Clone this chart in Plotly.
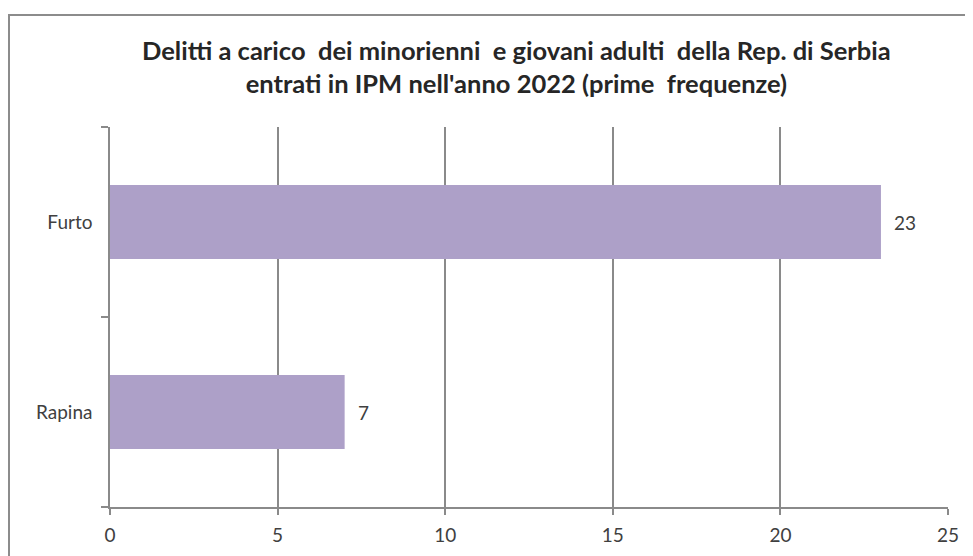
import plotly.graph_objects as go

categories = ["Rapina", "Furto"]
values = [7, 23]
x_ticks = [0, 5, 10, 15, 20, 25]
title_lines = [
    "Delitti a carico  dei minorienni  e giovani adulti  della Rep. di Serbia",
    "entrati in IPM nell'anno 2022 (prime  frequenze)",
]

axis_col = "#8a8a8a"
text_col = "#404040"
font_family = "Lato, 'Open Sans', sans-serif"

# page body has an 8px margin; plot area in screen px: x 110..948, y 127..507
fig = go.Figure()
fig.add_trace(go.Bar(
    y=categories, x=values, orientation="h",
    marker=dict(color="#ada0c8", line=dict(width=0)),
    width=0.39,
    hoverinfo="x+y",
))

annotations = [dict(
    text="<br>".join(title_lines),
    xref="paper", yref="paper",
    x=0.4845, y=1 + (127 - 66) / 380,
    xanchor="center", yanchor="middle",
    showarrow=False,
    font=dict(family=font_family, size=25.5, color="#262626", weight="bold"),
    align="center",
)]
for cat, val in zip(categories, values):
    annotations.append(dict(
        x=val, y=cat, xref="x", yref="y",
        text=str(val), showarrow=False,
        xanchor="left", yanchor="middle", xshift=11,
        font=dict(family=font_family, size=19, color=text_col),
    ))

fig.update_layout(
    width=965, height=548,
    margin=dict(l=102, r=25, t=119, b=49, autoexpand=False),
    paper_bgcolor="white", plot_bgcolor="white",
    showlegend=False,
    bargap=0.61,
    annotations=annotations,
    shapes=[dict(
        type="rect", xref="paper", yref="paper",
        x0=(9 - 110) / 838, x1=(995 - 110) / 838,
        y0=(507 - 590) / 380, y1=1 + (127 - 15) / 380,
        line=dict(color="#8c8c8c", width=2), fillcolor="rgba(0,0,0,0)",
        layer="below",
    )],
)

fig.update_xaxes(
    range=[0, 25], tickvals=x_ticks, ticktext=[str(t) for t in x_ticks],
    showgrid=True, gridcolor=axis_col, gridwidth=1.5,
    showline=True, linecolor=axis_col, linewidth=1.5,
    ticks="outside", ticklen=6, tickcolor=axis_col, tickwidth=1.5,
    ticklabelstandoff=4, automargin=False,
    zeroline=False,
    tickfont=dict(family=font_family, size=19, color=text_col),
)
fig.update_yaxes(
    categoryorder="array", categoryarray=categories,
    showline=True, linecolor=axis_col, linewidth=1.5,
    ticks="outside", ticklen=7, tickcolor=axis_col, tickwidth=1.5,
    tickson="boundaries", automargin=False,
    ticklabelstandoff=12,
    showgrid=False, zeroline=False,
    tickfont=dict(family=font_family, size=19, color=text_col),
)

fig.write_html("out.html")
